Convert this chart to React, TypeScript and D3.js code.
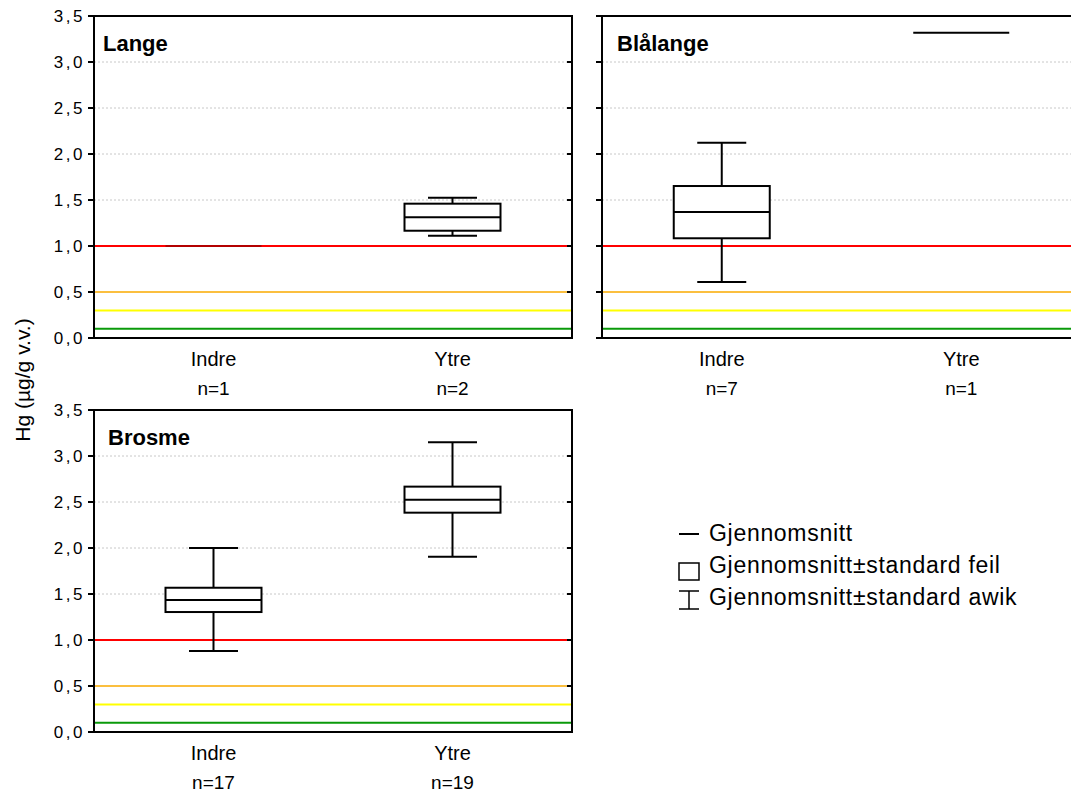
import React from "react";
import * as d3 from "d3";

// ---------- data ----------
const species = ["Lange", "Blålange", "Brosme"];
const categories = ["Indre", "Ytre"];
const nCounts = [[1, 2], [7, 1], [17, 19]];
const meanValues = [[1.0, 1.312], [1.37, 3.318], [1.435, 2.525]];
const seLower = [[1.0, 1.166], [1.084, 3.318], [1.304, 2.384]];
const seUpper = [[1.0, 1.46], [1.652, 3.318], [1.568, 2.667]];
const sdLower = [[1.0, 1.112], [0.609, 3.318], [0.88, 1.905]];
const sdUpper = [[1.0, 1.525], [2.123, 3.318], [2.0, 3.149]];
const yTicks = [0, 0.5, 1.0, 1.5, 2.0, 2.5, 3.0, 3.5];
const thresholdValues = [1.0, 0.5, 0.3, 0.1];
const thresholdColors = ["#ff0000", "#fbbf3f", "#ffff00", "#0a9a0a"];
const legendLabels = [
  "Gjennomsnitt",
  "Gjennomsnitt\u00b1standard feil",
  "Gjennomsnitt\u00b1standard awik",
];
const yAxisLabel = "Hg (\u00b5g/g v.v.)";

// ---------- layout ----------
const W = 1071;
const H = 795;
const FONT = "'Liberation Sans', Arial, sans-serif";
const panelLayout = [
  { x0: 94, x1: 572, y0: 16, y1: 338, titleDx: 9 },
  { x0: 602, x1: 1081, y0: 16, y1: 338, titleDx: 15 },
  { x0: 94, x1: 572, y0: 410, y1: 732, titleDx: 14 },
];
const BOX_W = 96;
const CAP_W = 49;
const fmt = (v: number) => d3.format(".1f")(v).replace(".", ",");

function Panel({ idx }: { idx: number }) {
  const L = panelLayout[idx];
  const x = d3.scalePoint<string>().domain(categories).range([L.x0, L.x1]).padding(0.5);
  const y = d3.scaleLinear().domain([0, 3.5]).range([L.y1, L.y0]);
  const gridTicks = yTicks.filter((t) => t > 0 && t < 3.5 && !thresholdValues.includes(t));
  return (
    <g>
      {gridTicks.map((t) => (
        <line key={"g" + t} x1={L.x0} x2={L.x1} y1={y(t)} y2={y(t)}
          stroke="#c8c8c8" strokeWidth={1} strokeDasharray="2,2" />
      ))}
      {thresholdValues.map((t, i) => (
        <line key={"t" + t} x1={L.x0} x2={L.x1} y1={y(t)} y2={y(t)}
          stroke={thresholdColors[i]} strokeWidth={2} />
      ))}
      {categories.map((c, j) => {
        const cx = x(c)!;
        const n = nCounts[idx][j];
        const m = meanValues[idx][j];
        const ti = thresholdValues.findIndex((t) => Math.abs(t - m) < 0.005);
        const meanColor = ti >= 0 ? d3.color(thresholdColors[ti])!.darker(1).formatHex() : "#000";
        if (n <= 1) {
          return (
            <line key={c} x1={cx - BOX_W / 2} x2={cx + BOX_W / 2} y1={y(m)} y2={y(m)}
              stroke={meanColor} strokeWidth={2} />
          );
        }
        return (
          <g key={c} stroke="#000" strokeWidth={2}>
            <line x1={cx} x2={cx} y1={y(sdUpper[idx][j])} y2={y(sdLower[idx][j])} />
            <line x1={cx - CAP_W / 2} x2={cx + CAP_W / 2} y1={y(sdUpper[idx][j])} y2={y(sdUpper[idx][j])} />
            <line x1={cx - CAP_W / 2} x2={cx + CAP_W / 2} y1={y(sdLower[idx][j])} y2={y(sdLower[idx][j])} />
            <rect x={cx - BOX_W / 2} width={BOX_W} y={y(seUpper[idx][j])}
              height={y(seLower[idx][j]) - y(seUpper[idx][j])} fill="#fff" />
            <line x1={cx - BOX_W / 2} x2={cx + BOX_W / 2} y1={y(m)} y2={y(m)} />
          </g>
        );
      })}
      <rect x={L.x0} y={L.y0} width={L.x1 - L.x0} height={L.y1 - L.y0}
        fill="none" stroke="#000" strokeWidth={2} />
      {yTicks.map((t) => (
        <g key={"k" + t} stroke="#000" strokeWidth={2}>
          <line x1={L.x0 - 6} x2={L.x0} y1={y(t)} y2={y(t)} />
          <line x1={L.x1 - 5} x2={L.x1} y1={y(t)} y2={y(t)} />
        </g>
      ))}
      {idx !== 1 &&
        yTicks.map((t) => (
          <text key={"l" + t} x={L.x0 - 9} y={y(t)} dy="0.36em" textAnchor="end"
            fontSize={17} letterSpacing={2.5} fontFamily={FONT} fill="#000">
            {fmt(t)}
          </text>
        ))}
      <text x={L.x0 + L.titleDx} y={L.y0 + 35} fontSize={22} fontWeight="bold"
        fontFamily={FONT} fill="#000">
        {species[idx]}
      </text>
      {categories.map((c, j) => (
        <g key={"c" + c}>
          <text x={x(c)!} y={L.y1 + 28} textAnchor="middle" fontSize={20} fontFamily={FONT} fill="#000">
            {c}
          </text>
          <text x={x(c)!} y={L.y1 + 57} textAnchor="middle" fontSize={19} fontFamily={FONT} fill="#000">
            {"n=" + nCounts[idx][j]}
          </text>
        </g>
      ))}
    </g>
  );
}

function Legend() {
  const lx0 = 679;
  const lx1 = 699;
  const baselines = [541, 573, 605];
  return (
    <g>
      <line x1={lx0} x2={lx1} y1={534} y2={534} stroke="#000" strokeWidth={2} />
      <rect x={lx0} y={563} width={lx1 - lx0} height={17} fill="none" stroke="#000" strokeWidth={1.5} />
      <g stroke="#000" strokeWidth={1.5}>
        <line x1={lx0} x2={lx1} y1={591} y2={591} />
        <line x1={lx0} x2={lx1} y1={609} y2={609} />
        <line x1={(lx0 + lx1) / 2} x2={(lx0 + lx1) / 2} y1={591} y2={609} />
      </g>
      {legendLabels.map((s, i) => (
        <text key={s} x={709} y={baselines[i]} fontSize={23} letterSpacing={0.7}
          fontFamily={FONT} fill="#000">
          {s}
        </text>
      ))}
    </g>
  );
}

export default function App() {
  return (
    <svg width={W} height={H} style={{ position: "absolute", left: 0, top: 0, background: "#fff" }}>
      <rect x={0} y={0} width={W} height={H} fill="#fff" />
      {species.map((s, i) => (
        <Panel key={s} idx={i} />
      ))}
      <text transform="translate(30,380) rotate(-90)" textAnchor="middle" fontSize={21}
        fontFamily={FONT} fill="#000">
        {yAxisLabel}
      </text>
      <Legend />
    </svg>
  );
}
